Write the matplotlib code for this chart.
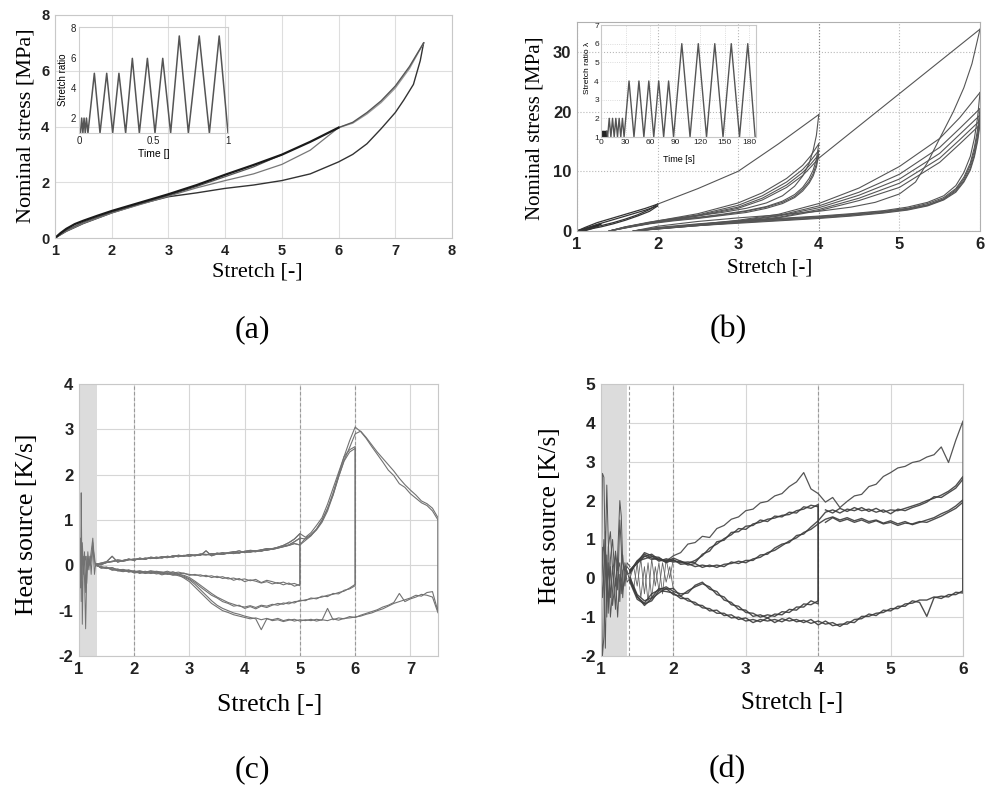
import numpy as np
import matplotlib
matplotlib.use('Agg')
import matplotlib.pyplot as plt

# ======================= DATA =======================
# ---- (a) nominal stress vs stretch ----
a_load_x = [1.0, 1.1, 1.2, 1.35, 1.5, 1.75, 2.0, 2.5, 3.0, 3.5, 4.0, 4.5, 5.0, 5.5, 6.0]
a_load_y = [0.0, 0.18, 0.33, 0.50, 0.62, 0.80, 0.97, 1.27, 1.57, 1.90, 2.27, 2.62, 2.99, 3.45, 3.96]
a_unl5_x = [5.0, 4.5, 4.0, 3.5, 3.0, 2.5, 2.0, 1.5, 1.2, 1.0]
a_unl5_y = [2.99, 2.55, 2.20, 1.85, 1.53, 1.23, 0.93, 0.57, 0.28, 0.0]
a_unl6_x = [6.0, 5.5, 5.0, 4.5, 4.0, 3.5, 3.0, 2.5, 2.0, 1.5, 1.2, 1.0]
a_unl6_y = [3.96, 3.15, 2.64, 2.30, 2.06, 1.80, 1.50, 1.20, 0.90, 0.53, 0.25, 0.0]
a_load75_x = [6.0, 6.25, 6.5, 6.75, 7.0, 7.25, 7.5]
a_load75_y = [3.96, 4.15, 4.50, 4.92, 5.45, 6.15, 7.0]
a_load75b_y = [3.96, 4.12, 4.45, 4.86, 5.38, 6.08, 7.0]
a_unl75_x = [7.5, 7.44, 7.32, 7.15, 7.0, 6.75, 6.5, 6.25, 6.0, 5.5, 5.0, 4.5, 4.0, 3.5, 3.0, 2.5, 2.0, 1.5, 1.2, 1.0]
a_unl75_y = [7.0, 6.36, 5.51, 4.95, 4.50, 3.92, 3.38, 3.00, 2.73, 2.30, 2.06, 1.90, 1.78, 1.62, 1.48, 1.22, 0.90, 0.52, 0.24, 0.0]
# inset (a): stretch ratio vs normalised time
ai_t = [0.010, 0.018, 0.026, 0.034, 0.042, 0.050, 0.060, 0.103, 0.141, 0.186, 0.226, 0.268,
        0.313, 0.358, 0.405, 0.459, 0.510, 0.562, 0.615, 0.673, 0.734, 0.807, 0.875, 0.941, 1.0]
ai_v = [1, 2, 1, 2, 1, 2, 1, 5, 1, 5, 1, 5, 1, 6, 1, 6, 1, 6, 1, 7.5, 1, 7.5, 1, 7.5, 1]

# ---- (b) nominal stress vs stretch ----
b_pre_x = [1.0, 1.15, 1.3, 1.2, 1.08]
b_pre_y = [0.0, 0.6, 1.2, 0.5, 0.0]
b_l2_x = [1.0, 1.1, 1.25, 1.4, 1.55, 1.7, 1.85, 2.0]
b_l2a_y = [0.0, 0.6, 1.4, 2.0, 2.6, 3.2, 3.8, 4.5]
b_l2b_y = [0.0, 0.4, 1.1, 1.7, 2.3, 2.9, 3.5, 4.2]
b_u2_x = [2.0, 1.9, 1.75, 1.6, 1.45, 1.3, 1.15, 1.05]
b_u2a_y = [4.5, 3.6, 2.7, 2.0, 1.4, 0.9, 0.4, 0.0]
b_u2b_y = [4.2, 3.3, 2.5, 1.8, 1.2, 0.7, 0.3, 0.0]
b_p24_x = [2.0, 2.5, 3.0, 3.5, 4.0]
b_p24_y = [4.5, 7.1, 10.0, 14.6, 19.5]
b_u4_x = [4.0, 3.97, 3.93, 3.88, 3.8, 3.7, 3.55, 3.35, 3.1, 2.8, 2.5, 2.2, 1.9, 1.6, 1.4]
b_u4_1 = [19.5, 16.0, 13.5, 11.3, 9.2, 7.5, 5.9, 4.7, 3.8, 3.1, 2.6, 2.1, 1.5, 0.7, 0.0]
b_u4_2 = [14.6, 12.0, 10.2, 8.8, 7.3, 6.1, 5.0, 4.1, 3.4, 2.8, 2.3, 1.9, 1.4, 0.7, 0.0]
b_u4_3 = [13.5, 11.2, 9.6, 8.3, 7.0, 5.8, 4.8, 4.0, 3.3, 2.7, 2.2, 1.8, 1.3, 0.6, 0.0]
b_u4_4 = [12.8, 10.7, 9.2, 8.0, 6.7, 5.6, 4.6, 3.8, 3.1, 2.6, 2.1, 1.7, 1.2, 0.5, 0.0]
b_r4_x = [1.4, 1.7, 2.0, 2.5, 3.0, 3.3, 3.6, 3.8, 3.9, 4.0]
b_r4_1 = [0.0, 0.9, 1.7, 2.9, 4.7, 6.4, 8.8, 11.0, 12.6, 14.6]
b_r4_2 = [0.0, 0.9, 1.6, 2.7, 4.3, 5.9, 8.2, 10.3, 11.8, 13.5]
b_r4_3 = [0.0, 0.8, 1.5, 2.6, 4.0, 5.5, 7.7, 9.8, 11.2, 12.8]
b_r4_4 = [0.0, 0.8, 1.5, 2.5, 3.8, 5.2, 7.3, 9.3, 10.7, 12.2]
b_p46_x = [4.0, 4.5, 5.0, 5.5, 6.0]
b_p46_y = [12.2, 17.6, 23.0, 28.4, 33.8]
b_u6_x = [6.0, 5.9, 5.8, 5.67, 5.5, 5.35, 5.2, 5.0, 4.7, 4.4, 4.0, 3.5, 3.0, 2.5, 2.0, 1.7]
b_u6_0 = [33.8, 28.0, 24.0, 20.0, 15.5, 11.5, 8.2, 6.2, 4.8, 4.0, 3.3, 2.7, 2.2, 1.6, 0.8, 0.0]
b_u6b_x = [6.0, 5.97, 5.93, 5.88, 5.8, 5.7, 5.55, 5.35, 5.1, 4.8, 4.4, 4.0, 3.5, 3.0, 2.5, 2.0, 1.7]
b_u6_1 = [23.2, 19.0, 15.5, 12.5, 9.8, 7.6, 5.9, 4.8, 4.0, 3.4, 2.9, 2.5, 2.1, 1.7, 1.2, 0.6, 0.0]
b_u6_2 = [20.5, 17.0, 14.0, 11.4, 9.0, 7.1, 5.6, 4.6, 3.8, 3.3, 2.8, 2.4, 2.0, 1.6, 1.1, 0.5, 0.0]
b_u6_3 = [19.4, 16.2, 13.4, 11.0, 8.7, 6.9, 5.4, 4.4, 3.7, 3.2, 2.7, 2.3, 1.9, 1.5, 1.0, 0.5, 0.0]
b_u6_4 = [18.5, 15.5, 12.8, 10.5, 8.4, 6.7, 5.3, 4.3, 3.6, 3.1, 2.6, 2.2, 1.8, 1.4, 1.0, 0.4, 0.0]
b_u6_5 = [17.8, 15.0, 12.4, 10.2, 8.2, 6.5, 5.2, 4.2, 3.5, 3.0, 2.5, 2.1, 1.7, 1.3, 0.9, 0.4, 0.0]
b_r6_x = [1.7, 2.5, 3.0, 3.5, 4.0, 4.5, 5.0, 5.5, 5.75, 6.0]
b_r6_1 = [0.0, 1.1, 1.8, 2.8, 4.6, 7.2, 10.8, 15.5, 19.0, 23.2]
b_r6_2 = [0.0, 1.0, 1.7, 2.6, 4.2, 6.5, 9.5, 14.0, 17.2, 20.5]
b_r6_3 = [0.0, 1.0, 1.6, 2.5, 3.9, 6.0, 8.7, 13.0, 16.2, 19.4]
b_r6_4 = [0.0, 0.9, 1.5, 2.3, 3.6, 5.5, 8.0, 12.2, 15.3, 18.5]
b_r6_5 = [0.0, 0.9, 1.4, 2.2, 3.4, 5.1, 7.3, 11.5, 14.6, 17.8]
# inset (b): stretch ratio vs time [s]
bi_blk_t = [1.0, 1.4, 1.8, 2.2, 2.6, 3.0, 3.4, 3.8, 4.2, 4.6, 5.0, 5.4, 5.8, 6.2, 6.6, 7.0]
bi_blk_v = [1.0, 1.3, 1.0, 1.3, 1.0, 1.3, 1.0, 1.3, 1.0, 1.3, 1.0, 1.3, 1.0, 1.3, 1.0, 1.3]
bi_c2_t = [8, 10, 12, 14, 16, 18, 20, 22, 24, 26, 28]
bi_c2_v = [1, 2, 1, 2, 1, 2, 1, 2, 1, 2, 1]
bi_c4_t = [34, 40, 46, 52, 58, 64, 70, 76, 82, 88]
bi_c4_v = [4, 1, 4, 1, 4, 1, 4, 1, 4, 1]
bi_c6_t = [98, 108, 118, 128, 138, 148, 158, 168, 178, 187]
bi_c6_v = [6, 1, 6, 1, 6, 1, 6, 1, 6, 1]

# ---- (c) heat source, max stretch 5 / 6 / 7.5 ----
c_i_x = [1.0, 1.02, 1.03, 1.04, 1.05, 1.06, 1.08, 1.1, 1.12, 1.14, 1.16, 1.18, 1.2, 1.22, 1.25, 1.28, 1.3]
c_i1 = [0, 0.6, -0.5, 1.6, 0.3, -1.3, 0.2, -0.3, -1.4, -0.2, 0.3, 0.0, 0.1, 0.3, 0.6, 0.1, 0.0]
c_i2 = [0.3, -0.2, 0.5, -0.8, 0.4, 0.1, -0.2, 0.3, -0.6, 0.2, -0.1, 0.2, 0.0, 0.1, 0.5, -0.2, 0.02]
c_i3 = [-0.2, 0.2, 0.0, 0.3, -0.3, 0.5, 0.0, 0.1, 0.2, -0.4, 0.1, -0.1, 0.2, -0.2, 0.4, 0.2, -0.02]
c_L1 = [0.02, 0.05, 0.08, 0.20, 0.07, 0.11, 0.13, 0.12, 0.15, 0.14, 0.17, 0.15, 0.18, 0.17, 0.21, 0.19, 0.22, 0.20, 0.23, 0.22,
        0.32, 0.21, 0.25, 0.24, 0.27, 0.26, 0.28, 0.30, 0.29, 0.32, 0.31, 0.35, 0.37, 0.39, 0.42, 0.45, 0.52, 0.60]
c_L2 = [0.00, 0.03, 0.06, 0.09, 0.10, 0.09, 0.12, 0.14, 0.13, 0.16, 0.15, 0.18, 0.16, 0.20, 0.18, 0.22, 0.20, 0.23, 0.21, 0.24,
        0.23, 0.26, 0.25, 0.28, 0.26, 0.29, 0.32, 0.28, 0.31, 0.30, 0.34, 0.33, 0.36, 0.40, 0.44, 0.50, 0.58, 0.70]
c_L3 = [0.04, 0.01, 0.07, 0.08, 0.12, 0.10, 0.14, 0.11, 0.16, 0.13, 0.18, 0.16, 0.19, 0.18, 0.20, 0.22, 0.21, 0.24, 0.22, 0.25,
        0.24, 0.23, 0.27, 0.25, 0.28, 0.30, 0.27, 0.31, 0.33, 0.32, 0.34, 0.37, 0.35, 0.38, 0.41, 0.44, 0.48, 0.45]
c_U5a = [0.00, -0.03, -0.05, -0.08, -0.10, -0.09, -0.12, -0.14, -0.13, -0.15, -0.12, -0.14, -0.16, -0.13, -0.17, -0.15, -0.18, -0.20, -0.22, -0.21,
         -0.25, -0.23, -0.27, -0.25, -0.30, -0.28, -0.32, -0.30, -0.34, -0.31, -0.38, -0.33, -0.36, -0.40, -0.37, -0.42, -0.40, -0.45]
c_U5b = [0.02, -0.05, -0.07, -0.05, -0.12, -0.14, -0.11, -0.17, -0.15, -0.18, -0.16, -0.13, -0.15, -0.18, -0.14, -0.19, -0.17, -0.22, -0.20, -0.24,
         -0.22, -0.27, -0.24, -0.29, -0.27, -0.33, -0.29, -0.36, -0.32, -0.35, -0.39, -0.36, -0.41, -0.38, -0.43, -0.39, -0.46, -0.42]
c_T6a = [0.62, 0.72, 0.88, 1.05, 1.35, 1.70, 2.05, 2.40, 2.55, 2.62]
c_T6b = [0.55, 0.65, 0.80, 1.00, 1.25, 1.55, 1.95, 2.30, 2.50, 2.58]
c_U6a = [0.00, -0.04, -0.06, -0.09, -0.08, -0.12, -0.10, -0.14, -0.12, -0.15, -0.13, -0.17, -0.15, -0.18, -0.17, -0.20, -0.22, -0.27, -0.35, -0.44,
         -0.53, -0.62, -0.70, -0.76, -0.82, -0.86, -0.90, -0.92, -0.89, -0.93, -0.88, -0.90, -0.86, -0.88, -0.83, -0.85, -0.80, -0.79, -0.76, -0.74,
         -0.72, -0.70, -0.66, -0.64, -0.60, -0.57, -0.50, -0.42]
c_U6b = [0.02, -0.06, -0.04, -0.11, -0.09, -0.10, -0.14, -0.12, -0.16, -0.13, -0.17, -0.15, -0.19, -0.16, -0.20, -0.19, -0.24, -0.30, -0.38, -0.48,
         -0.57, -0.66, -0.72, -0.80, -0.84, -0.90, -0.88, -0.95, -0.91, -0.96, -0.90, -0.93, -0.88, -0.84, -0.86, -0.81, -0.83, -0.77, -0.78, -0.72,
         -0.74, -0.68, -0.69, -0.62, -0.63, -0.55, -0.52, -0.45]
c_T75a = [0.60, 0.68, 0.80, 0.98, 1.25, 1.60, 2.00, 2.40, 2.75, 3.05, 2.95, 2.80, 2.62, 2.45, 2.28, 2.10, 1.98, 1.80, 1.72, 1.58,
          1.48, 1.38, 1.32, 1.20, 1.00]
c_T75b = [0.58, 0.66, 0.78, 0.95, 1.20, 1.55, 1.95, 2.32, 2.60, 2.90, 2.96, 2.82, 2.66, 2.50, 2.36, 2.22, 2.08, 1.92, 1.78, 1.66,
          1.55, 1.42, 1.36, 1.26, 1.05]
c_U75a = [0.00, -0.03, -0.07, -0.05, -0.10, -0.13, -0.11, -0.16, -0.14, -0.17, -0.15, -0.19, -0.17, -0.20, -0.19, -0.23, -0.26, -0.32, -0.42, -0.54,
          -0.66, -0.78, -0.88, -0.95, -1.00, -1.05, -1.08, -1.12, -1.15, -1.18, -1.42, -1.18, -1.20, -1.17, -1.22, -1.19, -1.23, -1.20, -1.22, -1.19,
          -1.23, -1.20, -1.22, -1.18, -1.21, -1.17, -1.16, -1.14, -1.12, -1.08, -1.05, -1.00, -0.96, -0.90, -0.84, -0.80, -0.76, -0.72, -0.66, -0.68,
          -0.60, -0.58, -1.02]
c_U75b = [0.03, -0.06, -0.04, -0.09, -0.12, -0.10, -0.15, -0.13, -0.18, -0.15, -0.18, -0.16, -0.21, -0.18, -0.22, -0.21, -0.28, -0.36, -0.48, -0.60,
          -0.72, -0.84, -0.92, -1.00, -1.04, -1.09, -1.12, -1.15, -1.18, -1.16, -1.20, -1.17, -1.22, -1.20, -1.24, -1.21, -1.19, -1.23, -1.20, -1.22,
          -1.19, -1.21, -0.95, -1.20, -1.16, -1.18, -1.13, -1.15, -1.10, -1.06, -1.02, -0.98, -0.92, -0.88, -0.82, -0.62, -0.80, -0.74, -0.70, -0.64,
          -0.66, -0.70, -1.05]

# ---- (d) heat source, max stretch 2 / 4 / 6 ----
d_i_x = [1.0, 1.02, 1.04, 1.06, 1.08, 1.1, 1.13, 1.16, 1.2, 1.23, 1.26, 1.28, 1.3, 1.33, 1.36, 1.4]
d_i1 = [-1.0, 2.7, 2.6, 0.5, 2.4, 1.0, -0.5, 0.3, -0.8, 0.6, 2.0, 1.6, 0.4, 0.2, 0.3, 0.2]
d_i2 = [0.5, -2.0, -1.5, 1.2, -1.0, 0.8, 1.2, 0.2, 0.6, -0.3, 1.5, 0.8, -0.5, 0.4, 0.1, 0.15]
d_i3 = [0.0, 0.8, -0.4, -1.8, 0.6, -0.9, 0.5, 1.0, -0.2, 0.5, -0.6, 0.3, 0.6, -0.2, 0.4, 0.3]
d_i4 = [-0.6, 0.3, 1.0, 0.2, -0.5, 0.4, -1.0, -0.3, 0.7, 0.2, 0.4, -0.4, 0.2, 0.3, -0.1, 0.0]
d_i5 = [0.3, -0.5, 0.2, 0.8, 0.1, -0.6, 0.3, -0.7, 0.0, -1.0, 0.1, 0.0, -0.3, 0.0, 0.2, -0.1]
d_m_x = [1.4, 1.45, 1.5, 1.55, 1.6, 1.65, 1.7, 1.75, 1.8, 1.85, 1.9, 1.95, 2.0]
d_m1 = [0.1, -0.3, 0.4, -0.5, 0.3, -0.6, 0.5, -0.2, 0.4, -0.4, 0.5, 0.0, 0.5]
d_m2 = [0.0, 0.3, -0.2, 0.5, -0.4, 0.4, -0.5, 0.3, -0.3, 0.4, -0.1, 0.3, -0.3]
d_A_lo = [0.15, 0.42, 0.58, 0.48, 0.52, 0.44, 0.58, 0.66, 0.88, 0.92, 1.08, 1.05, 1.28, 1.36, 1.52, 1.58, 1.74, 1.78, 1.94, 1.98,
          2.12, 2.18, 2.36, 2.48, 2.72, 2.30, 2.18]
d_A_hi = [1.96, 2.08, 1.82, 1.98, 2.12, 2.16, 2.36, 2.42, 2.62, 2.72, 2.84, 2.88, 2.98, 3.02, 3.12, 3.18, 3.38, 2.98, 3.55, 4.05]
d_B1 = [0.18, 0.45, 0.62, 0.52, 0.48, 0.42, 0.52, 0.44, 0.38, 0.46, 0.58, 0.78, 0.88, 1.02, 1.12, 1.28, 1.26, 1.40, 1.44, 1.52,
        1.55, 1.62, 1.64, 1.74, 1.78, 1.88, 1.84]
d_B2 = [0.22, 0.40, 0.66, 0.58, 0.44, 0.50, 0.46, 0.40, 0.42, 0.40, 0.62, 0.70, 0.94, 0.98, 1.18, 1.20, 1.34, 1.36, 1.50, 1.46,
        1.60, 1.58, 1.70, 1.68, 1.84, 1.80, 1.90]
d_C1 = [0.20, 0.38, 0.56, 0.62, 0.48, 0.46, 0.42, 0.44, 0.34, 0.38, 0.28, 0.34, 0.28, 0.36, 0.38, 0.44, 0.40, 0.50, 0.54, 0.66,
        0.72, 0.84, 0.96, 1.04, 1.18, 1.26, 1.40]
d_C2 = [0.12, 0.44, 0.50, 0.56, 0.54, 0.40, 0.48, 0.36, 0.38, 0.30, 0.34, 0.30, 0.34, 0.30, 0.42, 0.38, 0.46, 0.46, 0.60, 0.62,
        0.78, 0.88, 0.92, 1.10, 1.14, 1.32, 1.48]
d_E1a = [-0.05, -0.48, -0.64, -0.40, -0.30, -0.22, -0.34, -0.40, -0.38, -0.18, -0.10, -0.28, -0.34, -0.56, -0.62, -0.80, -0.82, -0.98, -0.94, -1.02,
         -0.92, -0.94, -0.80, -0.82, -0.66, -0.68, -0.58]
d_E1b = [0.02, -0.42, -0.58, -0.50, -0.26, -0.28, -0.26, -0.46, -0.32, -0.22, -0.14, -0.22, -0.42, -0.48, -0.68, -0.72, -0.88, -0.90, -1.00, -0.94,
         -0.98, -0.86, -0.88, -0.74, -0.74, -0.58, -0.66]
d_Dlow1 = [1.52, 1.58, 1.50, 1.56, 1.48, 1.54, 1.46, 1.50, 1.42, 1.48, 1.40, 1.46, 1.38, 1.44, 1.50, 1.56, 1.66, 1.74, 1.86, 2.02]
d_Dup1 = [1.70, 1.76, 1.68, 1.78, 1.74, 1.82, 1.72, 1.80, 1.70, 1.76, 1.74, 1.80, 1.86, 1.92, 2.00, 2.06, 2.14, 2.24, 2.38, 2.62]
d_Dlow2 = [1.44, 1.56, 1.46, 1.52, 1.44, 1.50, 1.42, 1.48, 1.40, 1.44, 1.36, 1.42, 1.40, 1.46, 1.44, 1.52, 1.60, 1.70, 1.80, 1.96]
d_Dup2 = [1.76, 1.68, 1.80, 1.72, 1.82, 1.74, 1.78, 1.70, 1.76, 1.66, 1.78, 1.74, 1.82, 1.88, 1.96, 2.10, 2.08, 2.20, 2.32, 2.55]
d_E2a = [-0.10, -0.54, -0.66, -0.58, -0.32, -0.34, -0.38, -0.52, -0.52, -0.68, -0.70, -0.84, -0.82, -0.96, -0.94, -1.06, -1.02, -1.14, -1.06, -1.10,
         -1.06, -1.12, -1.02, -1.12, -1.08, -1.16, -1.10, -1.18, -1.14, -1.24, -1.12, -1.14, -0.98, -0.98, -0.90, -0.88, -0.78, -0.78, -0.66, -0.64,
         -0.56, -0.56, -0.48, -0.52, -0.42, -0.42, -0.32]
d_E2b = [-0.04, -0.46, -0.70, -0.52, -0.38, -0.26, -0.42, -0.46, -0.58, -0.62, -0.76, -0.78, -0.90, -0.90, -1.02, -1.00, -1.10, -1.06, -1.12, -1.02,
         -1.14, -1.04, -1.10, -1.06, -1.14, -1.06, -1.20, -1.10, -1.22, -1.18, -1.18, -1.06, -1.04, -0.92, -0.96, -0.82, -0.84, -0.72, -0.72, -0.58,
         -0.62, -0.98, -0.50, -0.46, -0.48, -0.36, -0.38]


def grid(a, b):
    return list(np.round(np.arange(a, b + 0.001, 0.1), 2))


# ======================= FIGURE =======================
W, H = 986, 789
fig = plt.figure(figsize=(W / 100, H / 100), dpi=100)
SANS = 'Liberation Sans'
SERIF = 'Liberation Serif'


def px_axes(l, t, r, b):
    return fig.add_axes([l / W, 1 - b / H, (r - l) / W, (b - t) / H])


def style(ax, xlim, ylim, xt, yt, fs, spine='#c8c8c8', bold=True, pad=4, fmt=None):
    ax.set_xlim(xlim)
    ax.set_ylim(ylim)
    ax.set_xticks(xt)
    ax.set_yticks(yt)
    f = fmt or (lambda v: ('%g' % v))
    ax.set_xticklabels([f(v) for v in xt])
    ax.set_yticklabels([f(v) for v in yt])
    ax.tick_params(length=0, labelsize=fs, pad=pad, labelcolor='#222222')
    for t in ax.get_xticklabels() + ax.get_yticklabels():
        t.set_fontfamily(SANS)
        if bold:
            t.set_fontweight('bold')
    for s in ax.spines.values():
        s.set_color(spine)
        s.set_linewidth(0.8)
    ax.set_axisbelow(True)


def axlabels(ax, xl, xpos, yl, ypos, fs):
    ax.text(xpos[0], xpos[1], xl, transform=ax.transAxes, ha='center', va='center',
            fontsize=fs, family=SERIF)
    ax.text(ypos[0], ypos[1], yl, transform=ax.transAxes, ha='center', va='center',
            fontsize=fs, family=SERIF, rotation=90)


# ---------------- (a) ----------------
axa = px_axes(55, 15, 452, 238)
style(axa, (1, 8), (0, 8), range(1, 9), range(0, 9, 2), 10.5)
axa.grid(True, color='#dedede', lw=0.8)
axa.plot(a_unl75_x, a_unl75_y, color='#333333', lw=1.0)
axa.plot(a_unl6_x, a_unl6_y, color='#777777', lw=0.9)
axa.plot(a_unl5_x, a_unl5_y, color='#555555', lw=0.9)
axa.plot(a_load75_x, a_load75b_y, color='#999999', lw=1.0)
axa.plot(a_load75_x, a_load75_y, color='#555555', lw=1.0)
axa.plot(a_load_x, a_load_y, color='#1a1a1a', lw=1.6)
axlabels(axa, 'Stretch [-]', (0.509, -0.152), 'Nominal stress [MPa]', (-0.072, 0.505), 16)

axai = px_axes(79, 27, 228, 133)
axai.patch.set_alpha(0)
style(axai, (0, 1), (1, 8.1), [0, 0.5, 1], [2, 4, 6, 8], 7, spine='#cfcfcf', bold=False, pad=2)
axai.plot(ai_t, ai_v, color='#555555', lw=1.1)
axai.text(0.5, -0.2, 'Time []', transform=axai.transAxes, ha='center', va='center', fontsize=7.5, family=SANS)
axai.text(-0.11, 0.5, 'Stretch ratio', transform=axai.transAxes, ha='center', va='center', fontsize=7, family=SANS, rotation=90)

# ---------------- (b) ----------------
axb = px_axes(577, 22, 980, 231)
style(axb, (1, 6), (0, 35), range(1, 7), [0, 10, 20, 30], 12, spine='#b0b0b0')
axb.grid(True, color='#b8b8b8', lw=0.8, ls=':')
axb.axvline(4, color='#888888', lw=0.8, ls=':')
bc = '#555555'
blw = 0.8
axb.plot(b_pre_x, b_pre_y, color='#222222', lw=1.2)
for yy in (b_l2a_y, b_l2b_y):
    axb.plot(b_l2_x, yy, color='#333333', lw=0.9)
for yy in (b_u2a_y, b_u2b_y):
    axb.plot(b_u2_x, yy, color='#333333', lw=0.9)
axb.plot(b_p24_x, b_p24_y, color=bc, lw=blw)
for yy in (b_u4_1, b_u4_2, b_u4_3, b_u4_4):
    axb.plot(b_u4_x, yy, color=bc, lw=blw)
for yy in (b_r4_1, b_r4_2, b_r4_3, b_r4_4):
    axb.plot(b_r4_x, yy, color=bc, lw=blw)
axb.plot(b_p46_x, b_p46_y, color=bc, lw=blw)
axb.plot(b_u6_x, b_u6_0, color=bc, lw=blw)
for yy in (b_u6_1, b_u6_2, b_u6_3, b_u6_4, b_u6_5):
    axb.plot(b_u6b_x, yy, color=bc, lw=blw)
for yy in (b_r6_1, b_r6_2, b_r6_3, b_r6_4, b_r6_5):
    axb.plot(b_r6_x, yy, color=bc, lw=blw)
axlabels(axb, 'Stretch [-]', (0.479, -0.177), 'Nominal stress [MPa]', (-0.104, 0.493), 15)

axbi = px_axes(601, 25, 756, 137)
axbi.patch.set_alpha(0)
style(axbi, (0, 188), (1, 7), range(0, 181, 30), range(1, 8), 6, spine='#c8c8c8', bold=False, pad=1.5)
axbi.grid(True, color='#d0d0d0', lw=0.6, ls=':')
axbi.plot(bi_blk_t, bi_blk_v, color='#222222', lw=1.0)
axbi.plot([bi_blk_t[-1]] + bi_c2_t + bi_c4_t + bi_c6_t,
          [bi_blk_v[-1]] + bi_c2_v + bi_c4_v + bi_c6_v, color='#555555', lw=1.0)
axbi.text(0.5, -0.2, 'Time [s]', transform=axbi.transAxes, ha='center', va='center', fontsize=6.5, family=SANS)
axbi.text(-0.09, 0.62, 'Stretch ratio \u03bb', transform=axbi.transAxes, ha='center', va='center',
          fontsize=6, family=SANS, rotation=90)

# ---------------- (c) ----------------
axc = px_axes(79, 384, 438, 656)
style(axc, (1, 7.5), (-2, 4), range(1, 8), range(-2, 5), 12)
axc.axvspan(1, 1.33, color='#dcdcdc', lw=0)
axc.grid(True, color='#d6d6d6', lw=0.8)
for xv in (2, 5, 6):
    axc.axvline(xv, color='#999999', lw=0.8, ls=(0, (3, 2)))
cc = '#727272'
clw = 0.8
for yy in (c_i1, c_i2, c_i3):
    axc.plot(c_i_x, yy, color=cc, lw=0.7)
xlo = grid(1.3, 5.0)
xt6 = grid(5.1, 6.0)
xt75 = grid(5.1, 7.5)
xu6 = grid(1.3, 6.0)
xu75 = grid(1.3, 7.5)
for L, U in ((c_L1, c_U5a), (c_L2, c_U5b)):
    axc.plot(xlo + xlo[::-1], L + U[::-1], color=cc, lw=clw)
for L, T, U in ((c_L2, c_T6a, c_U6a), (c_L3, c_T6b, c_U6b)):
    axc.plot(xlo + xt6 + xu6[::-1], L + T + U[::-1], color=cc, lw=clw)
for L, T, U in ((c_L3, c_T75a, c_U75a), (c_L1, c_T75b, c_U75b)):
    axc.plot(xlo + xt75 + xu75[::-1], L + T + U[::-1], color=cc, lw=clw)
axlabels(axc, 'Stretch [-]', (0.532, -0.18), 'Heat source [K/s]', (-0.145, 0.485), 18.5)

# ---------------- (d) ----------------
axd = px_axes(601, 384, 963, 656)
style(axd, (1, 6), (-2, 5), range(1, 7), range(-2, 6), 12.5)
axd.axvspan(1, 1.36, color='#dcdcdc', lw=0)
axd.grid(True, color='#d6d6d6', lw=0.8)
for xv in (1.39, 2, 4):
    axd.axvline(xv, color='#999999', lw=0.8, ls=(0, (3, 2)))
dc = '#3c3c3c'
dlw = 1.0
for yy in (d_i1, d_i2, d_i3, d_i4, d_i5):
    axd.plot(d_i_x, yy, color='#555555', lw=0.7)
for yy in (d_m1, d_m2):
    axd.plot(d_m_x, yy, color='#666666', lw=0.6)
dlo = grid(1.4, 4.0)
dhi = grid(4.1, 6.0)
dall = grid(1.4, 6.0)
axd.plot(dlo + dhi + [6.0], d_A_lo + d_A_hi + [-0.3], color='#555555', lw=0.9)
for B, E in ((d_B1, d_E1a), (d_B2, d_E1b)):
    axd.plot(dlo + dlo[::-1], B + E[::-1], color=dc, lw=dlw, alpha=0.9)
for C, D, E in ((d_C1, d_Dlow1, d_E2a), (d_C2, d_Dup1, d_E2b)):
    axd.plot(dlo + dhi + dall[::-1], C + D + E[::-1], color=dc, lw=dlw, alpha=0.9)
for D in (d_Dlow2, d_Dup2):
    axd.plot(dhi, D, color=dc, lw=dlw, alpha=0.9)
axlabels(axd, 'Stretch [-]', (0.528, -0.173), 'Heat source [K/s]', (-0.141, 0.515), 18)

# ---------------- panel letters ----------------
for (x, y, s) in ((252, 330, '(a)'), (728, 330, '(b)'), (252, 770, '(c)'), (727, 770, '(d)')):
    fig.text(x / W, 1 - y / H, s, ha='center', va='center', fontsize=23, family=SERIF)

fig.savefig('out.png', dpi=100, facecolor='white')
